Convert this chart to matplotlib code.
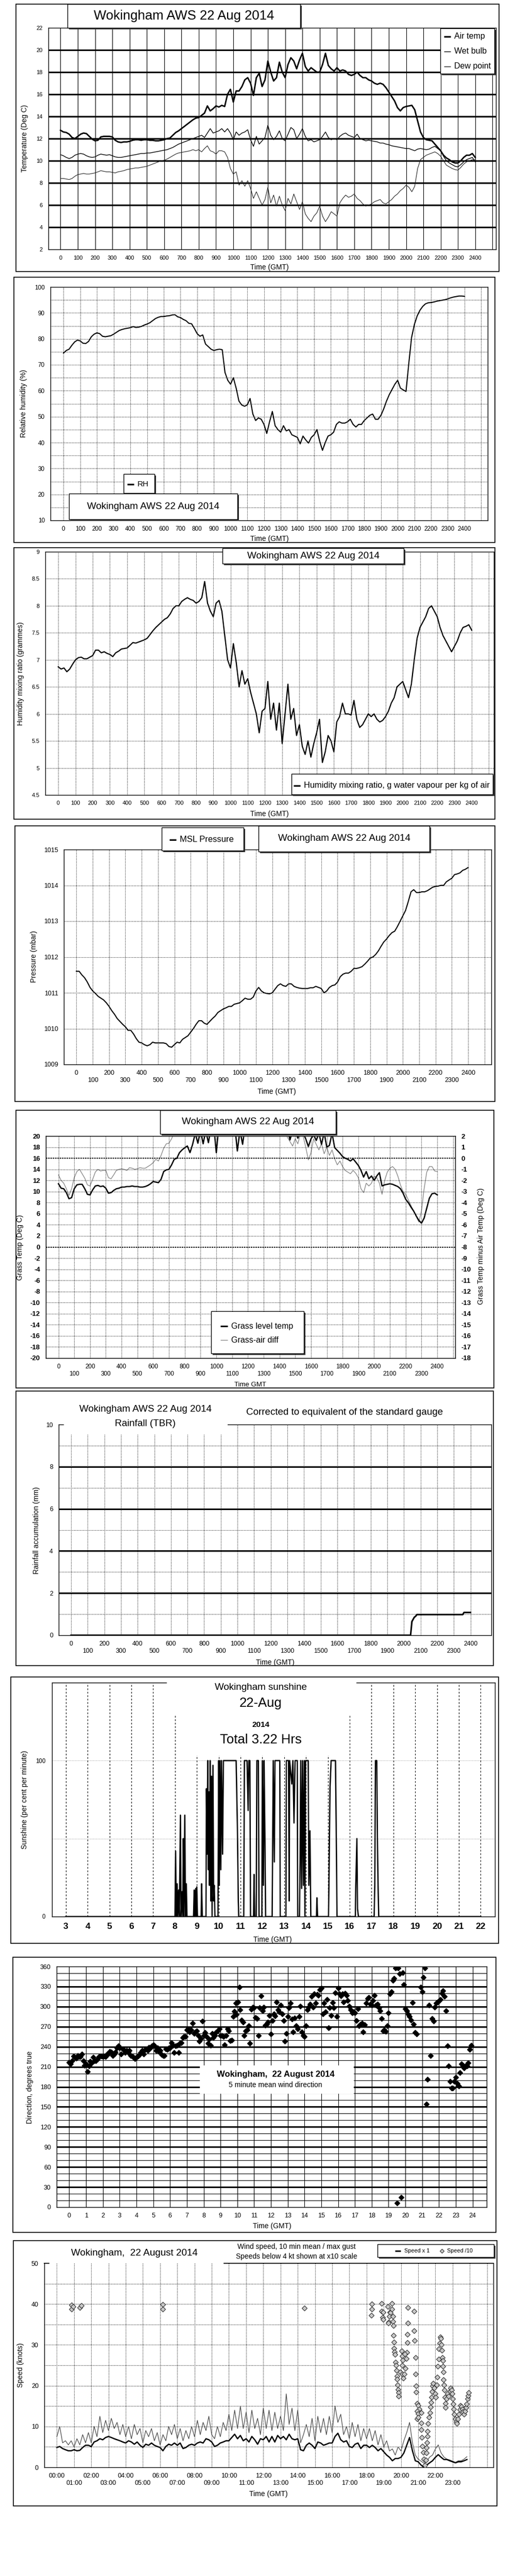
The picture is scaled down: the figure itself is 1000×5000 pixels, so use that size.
import numpy as np
import matplotlib
matplotlib.use('Agg')
import matplotlib.pyplot as plt
from matplotlib.patches import Rectangle

FONT = ['Liberation Sans', 'DejaVu Sans']
plt.rcParams['font.family'] = FONT
plt.rcParams['font.size'] = 9
plt.rcParams['axes.unicode_minus'] = False

# ---- 10-minute readings, 00:00 .. 24:00 (one hour per line) ----
minutes = np.arange(0, 1441, 10)

air_temp = [
    12.75, 12.6, 12.55, 12.4, 12.1, 12.0,
    12.2, 12.4, 12.5, 12.45, 12.2, 11.95,
    11.8, 11.85, 12.15, 12.2, 12.2, 12.2,
    12.15, 11.85, 11.7, 11.65, 11.7, 11.7,
    11.75, 11.85, 11.9, 11.9, 11.85, 11.9,
    11.9, 11.85, 11.85, 11.8, 11.8, 11.85,
    11.9, 12.0, 12.05, 12.3, 12.55, 12.7,
    12.9, 13.1, 13.3, 13.5, 13.7, 13.85,
    13.9, 14.1, 14.3, 14.95, 14.5, 14.7,
    14.95, 14.85, 15.0, 14.9, 16.0, 16.45,
    15.3, 16.3, 16.3, 16.7, 17.3, 17.5,
    17.0, 15.9, 17.5, 17.9, 16.7, 17.3,
    19.0, 18.0, 17.2, 17.5, 18.9, 18.0,
    17.5, 18.7, 19.3, 19.0, 18.3, 19.1,
    19.7, 18.5, 18.1, 18.4, 18.2, 18.0,
    18.0, 18.7, 19.7, 18.6, 18.3, 18.1,
    18.4, 18.1, 18.2, 18.1, 17.8, 17.7,
    17.8, 18.0, 17.7, 17.5, 17.5, 17.3,
    17.2, 17.0, 16.9, 17.0, 16.9, 16.6,
    16.2, 15.8, 15.4, 14.8, 14.5, 14.8,
    14.9, 14.95, 15.0, 14.6, 13.6, 12.6,
    12.1, 11.9, 11.85, 11.8, 11.5, 11.2,
    10.9, 10.5, 10.25, 10.1, 9.9, 9.8,
    9.8, 10.0, 10.3, 10.5, 10.5, 10.65,
    10.3]

wet_bulb = [
    10.55, 10.45, 10.3, 10.2, 10.3, 10.5,
    10.6, 10.65, 10.6, 10.45, 10.35, 10.3,
    10.35, 10.5, 10.6, 10.55, 10.5, 10.55,
    10.45, 10.35, 10.3, 10.3, 10.35, 10.4,
    10.45, 10.5, 10.55, 10.6, 10.65, 10.65,
    10.7, 10.7, 10.75, 10.8, 10.85, 10.9,
    10.95, 11.0, 11.1, 11.2, 11.35, 11.5,
    11.6, 11.7, 11.8, 11.9, 12.0, 12.1,
    12.2, 12.3, 12.1, 12.5, 12.9, 12.5,
    12.6, 12.7, 12.9, 12.6, 12.9, 12.5,
    11.9, 12.6, 12.3, 12.5, 12.6, 12.8,
    11.9, 11.3, 12.2, 11.5, 11.8, 12.1,
    13.2, 12.3, 11.9, 12.2, 12.7, 12.0,
    11.8, 12.4, 13.0, 12.8, 12.0, 12.4,
    12.9, 12.2, 11.8, 11.9, 11.7, 11.8,
    11.9, 12.2, 12.6, 12.1, 11.9, 12.0,
    11.9, 12.2, 12.4, 12.5, 12.3, 12.2,
    12.1, 12.4, 12.0, 11.9, 11.8, 11.85,
    11.8, 11.75, 11.7, 11.6, 11.6, 11.5,
    11.45, 11.35, 11.3, 11.25, 11.2, 11.15,
    11.1, 11.1, 11.0, 10.9, 11.05, 11.1,
    11.05, 11.0, 11.05, 11.2, 11.3, 11.1,
    10.9, 10.4, 10.0, 9.8, 9.65, 9.5,
    9.45, 9.65, 9.9, 10.1, 10.2, 10.3,
    9.9]

dew_point = [
    8.4, 8.4, 8.35, 8.3, 8.4, 8.6,
    8.75, 8.8, 8.85, 8.8, 8.8, 8.85,
    8.9, 9.0, 9.1, 9.05, 9.0, 9.0,
    8.95, 8.9, 9.0, 9.05, 9.1, 9.2,
    9.25, 9.3, 9.35, 9.35, 9.4, 9.45,
    9.5, 9.6, 9.7, 9.8, 9.9, 10.0,
    10.05, 10.15, 10.3, 10.45, 10.6, 10.7,
    10.75, 10.8, 10.85, 10.9, 11.0, 10.9,
    11.0, 10.8, 11.1, 11.35, 10.9, 10.8,
    10.6, 10.9, 10.9, 10.8, 10.3, 9.3,
    8.8, 9.0, 7.8, 8.2, 7.7, 8.2,
    7.5, 6.6, 7.2, 6.6, 6.0, 6.5,
    7.6, 6.2, 6.9, 5.9, 6.8, 6.0,
    5.5, 6.6, 6.1, 7.0, 6.3, 5.6,
    6.3, 5.2, 4.8, 4.5, 5.0, 5.3,
    5.9, 5.0, 4.5, 4.9, 5.4, 5.2,
    5.0, 6.2, 6.6, 6.9, 6.7, 6.8,
    7.0, 6.6, 6.4, 6.1, 5.9, 6.0,
    6.1, 6.3, 6.4, 6.5, 6.2, 6.1,
    6.3, 6.5, 6.8, 7.0, 7.3, 7.5,
    7.8, 7.6, 7.2, 7.7, 9.3, 10.1,
    10.3, 10.5, 10.6, 10.7, 10.8, 10.65,
    10.4, 10.0, 9.6, 9.45, 9.3, 9.2,
    9.15, 9.4, 9.7, 9.9, 10.0, 10.1,
    10.1]

rel_humidity = [
    74.5, 75.5, 76, 77.5, 78.8, 79.5,
    79.2, 78.3, 78.2, 79, 80.8, 81.8,
    82.3, 82, 81, 80.8, 81, 81.2,
    81.8, 82.5, 83.2, 83.6, 83.9, 84.1,
    84.3, 84.7, 84.4, 84.5, 84.8, 85.3,
    85.7, 86.2, 87, 87.8, 88.3, 88.6,
    88.6, 88.8, 88.9, 89.2, 89.3, 88.5,
    88.2, 87.5, 87, 86, 85.8, 84,
    82, 81, 81.5, 78, 77, 76,
    75.5, 75.8, 76, 75.8, 67, 64,
    62.5, 65, 61, 56, 54.5, 54,
    54.5, 57, 51, 48.5, 49.5, 49,
    47, 43.5, 48, 52, 46.5, 45,
    44, 46.5, 44.5, 45, 43, 42.5,
    42, 39.5, 42.5, 41, 39.8, 42,
    43, 45, 40.5, 37, 40, 42.5,
    43, 44, 47, 48, 47.5, 47.5,
    48, 49, 47, 46, 47, 47,
    48.5, 49.5, 50.5, 51, 49, 49,
    50.5, 53, 56, 58.5, 60.5, 62.5,
    64, 61, 60.3, 59.7, 70.5, 80.5,
    85.5, 88.8, 91, 92.5, 93.5, 93.9,
    94, 94.2, 94.5, 94.7, 94.9, 95.1,
    95.4, 95.8, 96.1, 96.3, 96.5, 96.5,
    96.4]

mixing_ratio = [
    6.87, 6.83, 6.85, 6.78, 6.83, 6.92,
    7.0, 7.04, 7.05, 7.02, 7.02, 7.05,
    7.08, 7.18, 7.18, 7.13, 7.15, 7.12,
    7.1, 7.06, 7.13, 7.16, 7.2, 7.21,
    7.22, 7.27, 7.32, 7.31, 7.33, 7.35,
    7.37, 7.4, 7.47, 7.54, 7.6, 7.65,
    7.7, 7.75, 7.78, 7.85, 7.95, 8.0,
    8.0, 8.08, 8.12, 8.15, 8.12, 8.1,
    8.05, 8.08, 8.15, 8.45, 8.05, 7.9,
    7.8, 8.05, 8.1, 7.9, 7.45, 7.0,
    6.85, 7.3, 6.95, 6.5, 6.8, 6.55,
    6.65, 6.4, 6.2, 6.0, 5.65, 6.05,
    6.1, 6.6, 5.9, 6.2, 5.7, 6.2,
    5.45, 6.0, 6.55, 5.9, 6.1, 5.6,
    5.8, 5.4, 5.25, 5.5, 5.2, 5.45,
    5.65, 5.9, 5.1, 5.3, 5.6, 5.5,
    5.3, 5.85, 5.95, 6.2, 6.0, 6.0,
    5.98, 6.25, 5.9, 5.75, 5.8, 5.9,
    6.0, 5.95, 6.0, 5.9, 5.85, 5.88,
    5.95, 6.05, 6.2, 6.3, 6.5, 6.55,
    6.6, 6.45, 6.3, 6.55, 7.0, 7.4,
    7.6, 7.7, 7.8, 7.95, 8.0, 7.9,
    7.8, 7.6, 7.45, 7.35, 7.25, 7.15,
    7.25, 7.35, 7.5, 7.6, 7.62, 7.65,
    7.55]

msl_pressure = [
    1011.6, 1011.6, 1011.5, 1011.42, 1011.3, 1011.15,
    1011.05, 1010.98, 1010.9, 1010.85, 1010.8, 1010.72,
    1010.62, 1010.5, 1010.4, 1010.28, 1010.2, 1010.12,
    1010.05, 1009.95, 1009.95, 1009.85, 1009.72, 1009.62,
    1009.6, 1009.55, 1009.52, 1009.55, 1009.62, 1009.6,
    1009.6, 1009.6, 1009.6, 1009.58, 1009.5, 1009.48,
    1009.55, 1009.62, 1009.6, 1009.7, 1009.75, 1009.8,
    1009.9, 1010.0, 1010.12, 1010.22, 1010.22, 1010.15,
    1010.12, 1010.2, 1010.28, 1010.35, 1010.45, 1010.5,
    1010.55, 1010.58, 1010.62, 1010.62, 1010.68, 1010.7,
    1010.72, 1010.78, 1010.85, 1010.82, 1010.82, 1010.88,
    1011.05, 1011.15, 1011.05, 1011.0, 1010.98, 1010.97,
    1011.0, 1011.1, 1011.2, 1011.25, 1011.2, 1011.18,
    1011.25, 1011.25, 1011.18, 1011.15, 1011.13, 1011.12,
    1011.12, 1011.12, 1011.14, 1011.14, 1011.18, 1011.15,
    1011.12, 1011.0, 1011.05, 1011.15, 1011.2, 1011.22,
    1011.3, 1011.45, 1011.52, 1011.55, 1011.55, 1011.6,
    1011.68, 1011.68, 1011.7, 1011.73, 1011.8, 1011.88,
    1011.97, 1012.0, 1012.07, 1012.17, 1012.3, 1012.42,
    1012.5, 1012.6, 1012.68, 1012.72, 1012.85, 1013.0,
    1013.15, 1013.3, 1013.55, 1013.82, 1013.88, 1013.8,
    1013.8, 1013.82, 1013.82, 1013.85, 1013.9, 1013.95,
    1013.97, 1013.98, 1014.0, 1014.0, 1014.1, 1014.15,
    1014.2, 1014.3, 1014.32, 1014.35, 1014.42, 1014.45,
    1014.5]

grass_temp = [
    11.4, 10.6, 10.5, 9.8, 8.7, 8.9,
    10.5, 11.2, 11.3, 11.3, 10.5, 9.5,
    9.4, 10.3, 11.0, 11.1, 10.9, 11.0,
    10.6, 9.7, 9.8, 10.2, 10.5, 10.6,
    10.8, 10.8, 10.9, 10.9, 11.0, 10.9,
    10.9, 10.8, 10.8, 10.9, 11.1, 11.4,
    11.8, 11.7, 11.6, 12.2, 13.6, 13.9,
    14.0, 14.8, 15.8, 16.0, 17.0, 17.5,
    17.9, 18.2, 17.0, 18.5, 20.5, 18.7,
    21.0, 18.6, 21.0, 18.8, 21.5, 22.0,
    17.0, 22.0, 22.5, 22.0, 23.0, 22.5,
    23.0, 22.0, 17.3, 21.0, 18.5, 22.0,
    22.5, 23.0, 22.0, 23.5, 23.0, 22.5,
    23.0, 22.5, 23.5, 22.0, 23.0, 22.5,
    23.0, 22.0, 22.5, 21.5, 19.3, 21.0,
    21.0, 19.6, 21.0, 20.5, 19.5, 18.1,
    19.5, 20.2, 19.2, 20.5, 18.5, 20.6,
    18.0, 18.3, 20.5, 17.9, 17.4, 16.9,
    16.3, 16.0, 15.8, 15.5, 15.9, 15.3,
    14.7, 13.8, 12.6, 13.6, 12.3, 12.8,
    12.0, 12.8, 13.4, 11.0, 11.2, 11.3,
    11.4, 11.3, 11.1, 10.9, 10.5, 9.7,
    8.6, 8.0, 7.2, 6.5, 5.6, 4.8,
    4.3, 5.2, 7.0, 8.8, 9.6, 9.7,
    9.4]

grass_air_diff = [
    -1.5, -2.0, -2.25, -2.75, -3.35, -2.75,
    -1.75, -1.2, -1.0, -1.4, -1.8, -2.4,
    -2.5, -1.9, -1.25, -1.0, -1.15, -1.1,
    -1.1, -1.75, -1.85, -1.5, -1.1, -1.0,
    -0.95, -1.0, -1.1, -0.85, -0.9, -1.0,
    -0.95, -0.85, -0.9, -0.9, -0.75, -0.6,
    -0.4, -0.1, -0.25, 0.25, 0.9, 1.3,
    1.35, 1.75, 2.3, 2.6, 2.8, 3.0,
    3.2, 3.5, 3.3, 3.8, 4.0, 3.6,
    4.2, 3.7, 4.1, 3.9, 4.3, 4.5,
    3.5, 4.2, 4.0, 4.5, 4.4, 4.6,
    4.1, 3.4, 3.0, 4.0, 3.8, 4.3,
    4.6, 4.2, 3.9, 4.4, 4.8, 4.5,
    4.1, 4.3, 4.6, 4.0, 4.4, 4.2,
    4.5, 3.8, 2.6, 1.9, 1.5, 1.1,
    1.75, 1.3, 2.25, 2.0, 1.0, -0.15,
    0.5, 1.75, 1.25, 0.75, 1.3, 0.4,
    1.0, 0.25, 0.75, -0.05, -0.6, -0.25,
    -0.75, -1.1, -1.25, -1.4, -1.1, -1.35,
    -1.75, -2.75, -3.1, -2.25, -2.5, -2.25,
    -1.6, -1.75, -2.25, -3.25, -2.0, -1.25,
    -0.9, -0.75, -1.0, -1.6, -2.4, -3.0,
    -3.25, -3.75, -4.25, -4.75, -5.25, -5.75,
    -4.75, -2.75, -1.25, -0.75, -0.75, -1.15,
    -1.2]

# rainfall accumulation steps (time as hhmm-scale, mm)
rain_x = [0, 2040, 2048, 2062, 2070, 2078, 2353, 2361, 2400]
rain_mm = [0, 0, 0.65, 0.85, 0.9, 0.98, 0.98, 1.08, 1.08]

# sunshine trace (hours, per cent per minute)
sun_t = [3.0, 8.0, 8.03, 8.06, 8.1, 8.13, 8.17, 8.2, 8.25, 8.28, 8.33, 8.36,
         8.38, 8.41, 8.45, 8.48, 8.52, 8.55, 8.85, 8.88, 8.9, 8.95, 8.97,
         9.0, 9.03, 9.2, 9.22, 9.25, 9.42, 9.44, 9.47, 9.5, 9.53, 9.56,
         9.58, 9.61, 9.64, 9.67, 9.7, 9.74, 9.77, 9.8, 9.83, 9.97, 10.0,
         10.03, 10.06, 10.1, 10.13, 10.18, 10.22, 10.8, 10.82, 10.86, 10.9,
         10.92, 11.15, 11.18, 11.3, 11.35, 11.38, 11.43, 11.46, 11.6, 11.62,
         11.65, 11.72, 11.75, 11.82, 11.85, 11.98, 12.0, 12.05, 12.08,
         12.12, 12.15, 12.45, 12.5, 12.55, 12.58, 12.8, 12.82, 13.08, 13.1,
         13.2, 13.23, 13.25, 13.35, 13.4, 13.45, 13.5, 13.6, 13.62, 13.7,
         13.73, 13.76, 13.8, 13.84, 13.88, 13.92, 13.95, 13.98, 14.1,
         14.13, 14.18, 14.22, 14.48, 14.5, 14.53, 15.03, 15.05, 15.1, 15.15,
         15.35, 15.38, 15.42, 16.26, 16.28, 16.33, 16.36, 16.4, 17.12,
         17.15, 17.18, 17.24, 17.27, 17.3, 17.33, 22.0]
sun_v = [0, 0, 42, 0, 21, 0, 17, 0, 65, 0, 16, 0,
         50, 0, 65, 0, 21, 0, 0, 17, 0, 18, 0,
         19, 0, 0, 21, 0, 0, 82, 40, 100, 30, 80,
         20, 100, 10, 90, 0, 97, 10, 20, 0, 0, 100,
         20, 100, 30, 100, 40, 100, 100, 86, 56, 10,
         0, 0, 100, 100, 68, 100, 100, 0, 0, 27,
         0, 0, 100, 100, 0, 0, 100, 20, 100,
         50, 0, 0, 100, 35, 100, 100, 0, 0, 100,
         100, 10, 100, 85, 100, 60, 100, 100, 0, 0,
         35, 100, 18, 100, 20, 100, 0, 100, 100,
         20, 55, 0, 0, 12, 0, 0, 20, 83, 100,
         100, 60, 0, 0, 20, 50, 5, 0, 0,
         20, 100, 100, 50, 20, 0, 0]

# 5 minute mean wind direction (hours, degrees)
wd_t = [0.0, 0.08, 0.17, 0.25, 0.33, 0.42, 0.5, 0.58, 0.67, 0.75, 0.83, 0.92,
        1.0, 1.08, 1.17, 1.25, 1.33, 1.42, 1.5, 1.58, 1.67, 1.75, 1.83, 1.92,
        2.0, 2.08, 2.17, 2.25, 2.33, 2.42, 2.5, 2.58, 2.67, 2.75, 2.83, 2.92,
        3.0, 3.08, 3.17, 3.25, 3.33, 3.42, 3.5, 3.58, 3.67, 3.75, 3.83, 3.92,
        4.0, 4.08, 4.17, 4.25, 4.33, 4.42, 4.5, 4.58, 4.67, 4.75, 4.83, 4.92,
        5.0, 5.08, 5.17, 5.25, 5.33, 5.42, 5.5, 5.58, 5.67, 5.75, 5.83, 5.92,
        6.0, 6.08, 6.17, 6.25, 6.33, 6.42, 6.5, 6.58, 6.67, 6.75, 6.83, 6.92,
        7.0, 7.08, 7.17, 7.25, 7.33, 7.42, 7.5, 7.58, 7.67, 7.75, 7.83, 7.92,
        8.0, 8.08, 8.17, 8.25, 8.33, 8.42, 8.5, 8.58, 8.67, 8.75, 8.83, 8.92,
        9.0, 9.08, 9.17, 9.25, 9.33, 9.42, 9.5, 9.58, 9.67, 9.75, 9.83, 9.92,
        9.96, 10.04, 10.12, 10.17, 10.25, 10.33, 10.42, 10.5, 10.58, 10.67,
        10.75, 10.83, 10.92, 11.0, 11.08, 11.17, 11.25, 11.33, 11.42, 11.5,
        11.58, 11.67, 11.75, 11.83, 11.92, 12.0, 12.08, 12.17, 12.25, 12.33,
        12.42, 12.5, 12.58, 12.67, 12.75, 12.83, 12.92, 13.0, 13.08, 13.17,
        13.25, 13.33, 13.42, 13.5, 13.58, 13.67, 13.75, 13.83, 13.92, 14.0,
        14.08, 14.17, 14.25, 14.33, 14.42, 14.5, 14.58, 14.67, 14.75, 14.83,
        14.92, 15.0, 15.08, 15.17, 15.25, 15.33, 15.42, 15.5, 15.58, 15.67,
        15.75, 15.83, 15.92, 16.0, 16.08, 16.17, 16.25, 16.33, 16.42, 16.5,
        16.58, 16.67, 16.75, 16.83, 16.92, 17.0, 17.08, 17.17, 17.25, 17.33,
        17.42, 17.5, 17.58, 17.67, 17.75, 17.83, 17.92, 18.0, 18.08, 18.17,
        18.25, 18.33, 18.42, 18.5, 18.58, 18.67, 18.75, 18.83, 18.92, 19.0,
        19.08, 19.17, 19.25, 19.33, 19.42, 19.5, 19.58, 19.67, 19.75, 19.83,
        19.92, 20.0, 20.08, 20.17, 20.25, 20.33, 20.42, 20.5, 20.58, 20.67,
        20.92, 21.0, 21.08, 21.17, 21.25, 21.33, 21.42, 21.5, 21.58, 21.67,
        21.75, 21.83, 21.92, 22.0, 22.08, 22.17, 22.25, 22.33, 22.42, 22.5,
        22.58, 22.67, 22.75, 22.83, 22.92, 23.0, 23.08, 23.17, 23.25, 23.33,
        23.42, 23.5, 23.58, 23.67, 23.75, 23.83, 23.92]
wd_deg = [217, 214, 219, 226, 224, 223, 227, 225, 225, 229, 219, 212,
          214, 203, 211, 218, 216, 224, 219, 219, 221, 225, 226, 226,
          225, 226, 225, 229, 230, 233, 232, 227, 229, 232, 238, 241,
          238, 229, 237, 235, 231, 234, 231, 234, 227, 226, 224, 222,
          224, 226, 228, 231, 234, 229, 235, 237, 234, 239, 238, 241,
          243, 241, 234, 238, 233, 234, 228, 227, 227, 237, 236, 238,
          238, 246, 242, 231, 241, 242, 231, 245, 246, 254, 255, 255,
          265, 267, 262, 265, 275, 260, 262, 264, 257, 248, 252, 278,
          257, 261, 255, 245, 251, 242, 260, 254, 257, 262, 264, 267,
          257, 257, 255, 243, 257, 267, 264, 249, 250, 285, 293, 305,
          288, 307, 329, 295, 280, 277, 257, 264, 265, 271,
          245, 296, 299, 298, 284, 282, 257, 298, 316, 294,
          299, 272, 274, 277, 287, 259, 279, 289, 286, 307,
          295, 292, 302, 289, 279, 248, 260, 285, 298, 305,
          281, 262, 283, 271, 267, 285, 301, 262, 257, 255,
          271, 295, 299, 304, 315, 299, 319, 305, 318, 317,
          325, 328, 289, 305, 292, 311, 268, 298, 287, 306,
          298, 321, 285, 328, 319, 316, 319, 307, 320, 317,
          309, 301, 295, 291, 292, 291, 279, 297, 271, 274,
          275, 262, 273, 305, 312, 314, 304, 302, 309, 317,
          302, 304, 298, 294, 282, 264, 265, 263, 271, 291,
          319, 322, 339, 342, 358, 6, 358, 349, 15, 351,
          333, 297, 294, 288, 285, 280, 306, 274, 261, 259,
          329, 322, 344, 358, 154, 191, 302, 227, 282, 278,
          299, 305, 307, 308, 311, 320, 324, 315, 294, 241,
          211, 188, 178, 178, 188, 194, 185, 181, 201, 214,
          212, 208, 211, 211, 216, 236, 242]

# wind speed, 10 minute readings 00:00 .. 23:50 (knots)
wind_mean = [
    4.85, 5.1, 4.6, 4.3, 4.05, 4.05,
    4.3, 4.05, 4.15, 4.85, 5.4, 5.4,
    5.1, 6.2, 6.5, 7.0, 6.75, 7.3,
    7.55, 7.3, 7.0, 6.75, 6.5, 6.2,
    5.95, 6.5, 6.2, 5.65, 6.2, 5.4,
    4.85, 5.65, 5.4, 5.95, 5.4, 5.1,
    4.85, 4.05, 5.1, 5.65, 5.4, 5.95,
    5.4, 5.95, 4.6, 4.85, 5.4, 5.65,
    5.4, 5.95, 6.2, 5.95, 7.0, 6.75,
    6.2, 5.1, 5.4, 5.95, 6.2, 6.5,
    6.5, 7.3, 8.1, 7.0, 7.8, 6.5,
    7.0, 6.2, 7.55, 6.75, 5.65, 7.0,
    6.75, 7.55, 6.2, 7.55, 6.2, 7.8,
    7.0, 7.55, 6.75, 8.1, 7.0, 6.75,
    7.0, 4.3, 4.05, 5.4, 5.95, 5.4,
    4.6, 6.2, 5.95, 5.4, 5.65, 5.95,
    5.95, 7.55, 8.35, 6.75, 6.2, 6.5,
    5.1, 4.85, 5.65, 5.95, 4.6, 5.4,
    5.4, 4.85, 5.4, 4.85, 4.05, 4.6,
    3.8, 3.0, 2.45, 1.6, 2.15, 2.15,
    2.45, 3.5, 5.4, 7.3, 4.05, 1.6,
    1.35, 0.55, 0.0, 0.55, 1.1, 1.6,
    2.45, 3.1, 2.45, 1.9, 1.9, 1.6,
    1.35, 1.1, 1.35, 1.35, 1.6, 1.9]
wind_gust = [
    7.5, 10.0, 6.0, 6.5, 5.5, 6.5,
    5.0, 7.0, 5.5, 8.0, 6.0, 8.5,
    6.0, 10.0, 7.5, 12.5, 8.5, 11.5,
    9.0, 12.0, 9.5, 11.0, 8.0, 10.5,
    7.5, 10.0, 7.0, 10.5, 8.0, 9.5,
    6.0, 9.0, 7.5, 9.5, 6.5, 8.5,
    5.5, 8.0, 6.5, 10.0, 8.0, 10.5,
    7.0, 9.5, 6.5, 9.0, 7.0, 10.0,
    7.5, 11.5, 8.0, 11.0, 9.0, 12.5,
    8.0, 7.0, 10.0, 7.5, 11.0, 9.0,
    13.0, 9.0, 14.0, 9.5, 15.0, 9.5,
    13.5, 8.5, 14.0, 9.5, 12.0, 8.0,
    14.5, 9.5, 14.0, 9.0, 13.5, 9.5,
    12.5, 9.0, 18.0, 10.5, 14.5, 9.0,
    14.0, 6.0, 8.0, 10.5, 7.5, 12.0,
    6.5, 12.5, 8.5, 12.0, 8.0, 12.5,
    8.5, 15.0, 11.0, 13.0, 8.0, 10.0,
    7.0, 11.0, 7.5, 10.5, 6.5, 9.5,
    7.0, 9.5, 6.5, 9.0, 5.5, 8.0,
    5.0, 6.5, 4.0, 4.5, 3.0, 5.0,
    4.0, 6.5, 8.5, 11.0, 6.0, 3.0,
    2.0, 1.5, 1.0, 1.5, 2.5, 3.0,
    4.5, 5.5, 3.5, 2.5, 2.0, 1.8,
    1.5, 1.2, 1.6, 1.6, 2.0, 2.6]

# speeds below 4 kt plotted at x10 (hours, knots)
low_t = [0.85, 0.85, 0.95, 1.33, 1.43, 6.16, 6.16, 14.39,
         18.31, 18.31, 18.29, 18.87, 18.87, 18.95, 18.93, 18.95,
         19.22, 19.35, 19.39, 19.32, 19.29, 19.25, 19.47, 19.47, 19.53,
         19.53, 19.56, 19.56, 19.58, 19.6, 19.63, 19.65, 19.68, 19.71,
         19.73, 19.76, 19.78, 19.81, 19.83, 19.85, 19.85,
         20.03, 20.08, 20.1, 20.06, 19.96, 20.08, 20.13, 20.2, 20.26,
         20.3, 20.33, 20.23, 20.4, 20.4, 20.38, 20.36,
         20.77, 20.77, 20.79, 20.84, 20.84, 20.87, 20.87,
         20.94, 21.01, 21.07, 20.94, 21.01, 21.17, 20.94, 21.01,
         21.17, 21.19, 21.21, 21.24, 21.29, 21.34, 21.39, 21.44, 21.47,
         21.49, 21.52, 21.55, 21.55, 21.58, 21.62, 21.68, 21.72, 21.75,
         21.78, 21.82, 21.85, 21.88, 21.93, 21.98, 22.02, 22.08, 22.12,
         22.15, 22.2, 22.2, 22.25, 22.3, 22.32, 22.35, 22.38, 22.42,
         22.45, 22.45, 22.47, 22.48, 22.5, 22.52, 22.55, 22.58, 22.58,
         22.65, 22.7, 22.78, 22.85, 22.9, 22.95, 22.98, 23.02, 23.05,
         23.08, 23.1, 23.15, 23.2, 23.25, 23.3, 23.35, 23.41, 23.46,
         23.51, 23.56, 23.61, 23.66, 23.72, 23.77, 23.82, 23.87, 23.9,
         23.93]
low_kt = [39.75, 38.8, 39.4, 39.2, 39.6, 39.9, 38.8, 39.0,
          40.0, 38.8, 37.3, 40.1, 38.3, 38.0, 36.8, 36.3,
          39.4, 38.0, 37.9, 37.0, 35.6, 35.4, 40.1, 38.8, 37.0,
          35.7, 34.7, 32.3, 30.7, 29.2, 28.3, 27.6, 25.7, 25.0,
          23.8, 22.4, 21.6, 20.2, 19.1, 18.3, 17.4,
          28.5, 27.3, 26.3, 25.0, 23.3, 22.9, 21.9, 22.9, 24.2,
          26.7, 28.2, 27.8, 39.2, 35.3, 32.6, 30.6,
          38.2, 33.4, 31.1, 26.9, 22.9, 20.0, 18.4,
          15.7, 15.2, 14.3, 13.8, 13.1, 13.4, 11.9, 12.2,
          10.9, 9.2, 7.3, 5.2, 3.7, 2.0, 0.5, 1.8, 3.5,
          4.8, 6.0, 7.6, 8.9, 10.7, 12.2, 13.4, 14.8, 15.9,
          17.2, 18.5, 20.0, 20.6, 19.5, 18.1, 17.2, 20.2, 22.1,
          24.8, 26.5, 29.0, 30.4, 31.9, 31.6, 30.1, 28.6, 26.9,
          26.1, 24.8, 23.3, 21.5, 20.2, 18.9, 17.2, 15.7, 14.7,
          16.8, 18.1, 17.4, 18.7, 19.5, 18.9, 18.1, 16.8, 15.5,
          14.3, 13.0, 11.9, 11.1, 10.7, 11.9, 13.0, 14.1, 15.1,
          14.9, 14.3, 13.6, 13.0, 13.8, 14.7, 15.5, 16.8, 17.6,
          18.3]

x_hhmm = minutes / 60 * 100
wind_hours = minutes[:len(wind_mean)] / 60

W, H = 1000, 5000
fig = plt.figure(figsize=(W / 100, H / 100), dpi=100)
ov = fig.add_axes([0, 0, 1, 1], zorder=20)
ov.set_xlim(0, W)
ov.set_ylim(H, 0)
ov.axis('off')


def add_ax(l, t, r, b):
    return fig.add_axes([l / W, 1 - b / H, (r - l) / W, (b - t) / H])


def frame(l, t, r, b):
    ov.add_patch(Rectangle((l, t), r - l, b - t, fill=False, ec='black', lw=1.2))


def box(l, t, r, b, shadow=True, edge=True):
    if shadow:
        ov.add_patch(Rectangle((l + 3, t + 3), r - l, b - t, fc='#3a3a3a', ec='none'))
    ov.add_patch(Rectangle((l, t), r - l, b - t, fc='white',
                           ec='black' if edge else 'none', lw=1.0))


def txt(x, y, s, size=9, ha='center', va='center', **kw):
    ov.text(x, y, s, fontsize=size, ha=ha, va=va, **kw)


def ylab(x, y, s, size=10):
    ov.text(x, y, s, fontsize=size, rotation=90, ha='center', va='center')


def leg_line(x, y, label, lw=2.2, color='black', size=11, length=13):
    ov.plot([x, x + length], [y, y], color=color, lw=lw, solid_capstyle='butt')
    txt(x + length + 7, y, label, size=size, ha='left')


def basic(ax, xlim, ylim, size=8, pad=8):
    ax.set_xlim(*xlim)
    ax.set_ylim(*ylim)
    ax.tick_params(length=0, labelsize=size, pad=pad)
    for s in ax.spines.values():
        s.set_linewidth(1.0)


def stagger(v):
    return str(v) if (v // 100) % 2 == 0 else '\n' + str(v)


# ---------------- panel 1: temperatures ----------------
frame(31, 8, 969, 527)
ax1 = add_ax(94, 54, 963, 484)
basic(ax1, (-70, 2520), (2, 22))
ax1.tick_params(axis='x', pad=9)
for yv in range(4, 21, 2):
    ax1.axhline(yv, color='black', lw=2.2, zorder=1)
for xv in range(0, 2501, 100):
    ax1.axvline(xv, color='black', lw=0.8, zorder=1)
ax1.plot(x_hhmm, air_temp, color='black', lw=2.0, zorder=3)
ax1.plot(x_hhmm, wet_bulb, color='black', lw=1.0, zorder=3)
ax1.plot(x_hhmm, dew_point, color='#202020', lw=0.8, zorder=3)
ax1.set_yticks(range(2, 23, 2))
ax1.set_xticks(range(0, 2401, 100))
box(131, 8, 583, 54)
txt(357, 31, 'Wokingham AWS 22 Aug 2014', size=18.5)
box(855, 55, 960, 143)
leg_line(862, 71, 'Air temp', lw=2.2, size=11.5)
leg_line(862, 100, 'Wet bulb', lw=1.0, size=11.5)
leg_line(862, 129, 'Dew point', lw=0.8, size=11.5)
ylab(48, 268, 'Temperature (Deg C)')
txt(523, 519, 'Time (GMT)', size=10)

# ---------------- panel 2: relative humidity ----------------
frame(27, 538, 961, 1053)
ax2 = add_ax(98, 557, 947, 1010)
basic(ax2, (-78, 2539), (10, 100), size=8.5)
ax2.set_yticks(range(10, 101, 10))
ax2.set_xticks(range(0, 2401, 100))
for yv in range(15, 100, 5):
    ax2.axhline(yv, color='black', lw=0.8, ls=':', zorder=1)
for xv in range(0, 2501, 100):
    ax2.axvline(xv, color='black', lw=0.8, ls=':', zorder=1)
ax2.plot(x_hhmm, rel_humidity, color='black', lw=1.5, zorder=3)
box(240, 920, 300, 957)
leg_line(247, 940, 'RH', lw=2.2, size=11, length=13)
box(134, 958, 461, 1008)
txt(297, 983, 'Wokingham AWS 22 Aug 2014', size=13.6)
ylab(46, 783, 'Relative humidity (%)')
txt(523, 1046, 'Time (GMT)', size=10)

# ---------------- panel 3: mixing ratio ----------------
frame(27, 1063, 961, 1590)
ax3 = add_ax(88, 1071, 959, 1543)
basic(ax3, (-75, 2529), (4.5, 9))
yt3 = np.arange(4.5, 9.01, 0.5)
ax3.set_yticks(yt3)
ax3.set_yticklabels(['{:g}'.format(v) for v in yt3])
ax3.set_xticks(range(0, 2401, 100))
for yv in yt3[1:-1]:
    ax3.axhline(yv, color='black', lw=0.8, ls=':', zorder=1)
for xv in range(0, 2501, 100):
    ax3.axvline(xv, color='black', lw=0.8, ls=':', zorder=1)
ax3.plot(x_hhmm, mixing_ratio, color='black', lw=1.6, zorder=3)
box(432, 1064, 784, 1094)
txt(608, 1080, 'Wokingham AWS 22 Aug 2014', size=13.6)
box(566, 1502, 957, 1542)
leg_line(570, 1525, 'Humidity mixing ratio, g water vapour per kg of air',
         lw=2.2, size=11.8, length=13)
ylab(40, 1308, 'Humidity mixing ratio (grammes)')
txt(523, 1580, 'Time (GMT)', size=10)

# ---------------- panel 4: pressure ----------------
frame(29, 1603, 961, 2138)
ax4 = add_ax(124, 1649, 954, 2066)
basic(ax4, (-77, 2542), (1009, 1015), size=9)
ax4.set_yticks(range(1009, 1016))
ax4.set_xticks(range(0, 2401, 100))
ax4.set_xticklabels([stagger(v) for v in range(0, 2401, 100)])
for yv in range(1010, 1015):
    ax4.axhline(yv, color='black', lw=0.8, ls=':', zorder=1)
for xv in range(0, 2501, 100):
    ax4.axvline(xv, color='black', lw=0.8, ls=':', zorder=1)
ax4.plot(x_hhmm, msl_pressure, color='black', lw=1.5, zorder=3)
box(314, 1606, 473, 1651)
leg_line(329, 1630, 'MSL Pressure', lw=2.2, size=12, length=13)
box(502, 1603, 834, 1653)
txt(668, 1628, 'Wokingham AWS 22 Aug 2014', size=13.6)
ylab(66, 1857, 'Pressure (mbar)')
txt(537, 2119, 'Time (GMT)', size=10)

# ---------------- panel 5: grass temperature ----------------
frame(31, 2155, 959, 2694)
ax5 = add_ax(89, 2205, 884, 2636)
basic(ax5, (-80, 2514), (-20, 20), size=8.5)
ax5.set_yticks(range(-20, 21, 2))
ax5.set_xticks(range(0, 2401, 100))
ax5.set_xticklabels([stagger(v) for v in range(0, 2401, 100)])
ax5.tick_params(axis='y', labelsize=9.5)
for lab in ax5.get_yticklabels():
    lab.set_fontweight('bold')
for yv in range(-18, 20, 2):
    if yv in (0, 16):
        ax5.axhline(yv, color='black', lw=1.4, ls=(0, (1.5, 0.8)), zorder=1)
    else:
        ax5.axhline(yv, color='black', lw=0.8, ls=':', zorder=1)
for xv in range(0, 2501, 100):
    ax5.axvline(xv, color='black', lw=0.8, ls=':', zorder=1)
ax5r = ax5.twinx()
ax5r.set_ylim(-18, 2)
ax5r.set_yticks(range(-18, 3, 1))
ax5r.tick_params(length=0, labelsize=9.5, pad=8)
for lab in ax5r.get_yticklabels():
    lab.set_fontweight('bold')
ax5r.plot(x_hhmm, grass_air_diff, color='#8a8a8a', lw=1.0, zorder=2)
ax5.set_zorder(ax5r.get_zorder() + 1)
ax5.patch.set_visible(False)
ax5.plot(x_hhmm, grass_temp, color='black', lw=1.8, zorder=3)
box(311, 2155, 652, 2201)
txt(481, 2177, 'Wokingham AWS 22 Aug 2014', size=13.6)
box(410, 2545, 590, 2627)
leg_line(428, 2574, 'Grass level temp', lw=2.2, size=11.5, length=14)
leg_line(428, 2601, 'Grass-air diff', lw=1.0, color='#8a8a8a', size=11.5, length=14)
ylab(39, 2421, 'Grass Temp (Deg C)')
ylab(934, 2419, 'Grass Temp minus Air Temp (Deg C)')
txt(486, 2688, 'Time GMT', size=9.5)

# ---------------- panel 6: rainfall ----------------
frame(31, 2700, 958, 3233)
ax6 = add_ax(114, 2765, 954, 3174)
basic(ax6, (-74, 2525), (0, 10), size=8.8)
ax6.set_yticks(range(0, 11, 2))
ax6.set_xticks(range(0, 2401, 100))
ax6.set_xticklabels([stagger(v) for v in range(0, 2401, 100)])
for yv in range(1, 10):
    if yv % 2 == 0:
        ax6.axhline(yv, color='black', lw=2.2, zorder=1)
    else:
        ax6.axhline(yv, color='black', lw=0.8, ls=':', zorder=1)
for xv in range(0, 2401, 100):
    ax6.axvline(xv, color='black', lw=0.8, ls=':', zorder=1)
ax6.plot(rain_x, rain_mm, color='black', lw=2.2, zorder=3)
ov.add_patch(Rectangle((124, 2762), 318, 23, fc='white', ec='none'))
txt(282, 2736, 'Wokingham AWS 22 Aug 2014', size=13.6)
txt(282, 2763, 'Rainfall (TBR)', size=13.6)
txt(669, 2742, 'Corrected to equivalent of the standard gauge', size=13.6)
ylab(71, 2970, 'Rainfall accumulation (mm)')
txt(534, 3227, 'Time (GMT)', size=10)

# ---------------- panel 7: sunshine ----------------
frame(21, 3255, 968, 3772)
ax7 = add_ax(101, 3266, 961, 3720)
basic(ax7, (2.37, 22.65), (0, 150), size=12.5, pad=9)
ax7.set_yticks([0, 50, 100])
ax7.set_yticklabels(['0', '', '100'])
ax7.tick_params(axis='y', labelsize=8.3)
ax7.set_xticks(range(3, 23))
for lab in ax7.get_xticklabels():
    lab.set_fontweight('bold')
for yv in (50, 100):
    ax7.axhline(yv, color='#9a9a9a', lw=0.8, ls=':', zorder=1)
for xv in range(3, 23):
    ax7.axvline(xv, color='black', lw=0.8, ls=(0, (3, 3)), zorder=1)
ax7.plot(sun_t, sun_v, color='black', lw=1.8, zorder=3)
ov.add_patch(Rectangle((324, 3262), 368, 67, fc='white', ec='none'))
ov.add_patch(Rectangle((342, 3328), 335, 79, fc='white', ec='none'))
txt(506, 3275, 'Wokingham sunshine', size=13.5)
txt(506, 3306, '22-Aug', size=18.5)
txt(506, 3348, '2014', size=11, fontweight='bold')
txt(506, 3377, 'Total 3.22 Hrs', size=18.5)
ylab(48, 3493, 'Sunshine (per cent per minute)')
txt(529, 3765, 'Time (GMT)', size=10)

# ---------------- panel 8: wind direction ----------------
frame(25, 3799, 963, 4333)
ax8 = add_ax(110, 3817, 945, 4284)
basic(ax8, (-0.75, 24.84), (0, 360), size=9)
ax8.set_yticks(range(0, 361, 30))
ax8.set_xticks(range(0, 25))
for yv in range(10, 360, 10):
    if yv % 30 == 0:
        ax8.axhline(yv, color='black', lw=2.2, zorder=1)
    else:
        ax8.axhline(yv, color='black', lw=0.8, zorder=1)
for xv in range(0, 25):
    ax8.axvline(xv, color='black', lw=0.8, zorder=1)
ax8.plot(wd_t, wd_deg, ls='none', marker='D', ms=5.5, color='black', zorder=3)
box(388, 4009, 687, 4064, shadow=False, edge=False)
txt(535, 4027, 'Wokingham,  22 August 2014', size=12, fontweight='bold')
txt(535, 4047, '5 minute mean wind direction', size=10)
ylab(58, 4051, 'Direction, degrees true')
txt(528, 4321, 'Time (GMT)', size=10)

# ---------------- panel 9: wind speed ----------------
frame(26, 4349, 965, 4864)
ax9 = add_ax(86, 4393, 958, 4789)
basic(ax9, (-0.73, 25.37), (0, 50), size=9)
ax9.set_yticks(range(0, 51, 10))
ax9.set_xticks(range(0, 24))
ax9.set_xticklabels(['{:02d}:00'.format(h) if h % 2 == 0 else '\n{:02d}:00'.format(h)
                     for h in range(0, 24)])
for yv in range(5, 50, 5):
    ax9.axhline(yv, color='black', lw=0.8, ls=':', zorder=1)
for xv in range(0, 26):
    ax9.axvline(xv, color='black', lw=0.8, ls=':', zorder=1)
ax9.spines['top'].set_visible(False)
ax9.plot([9.73, 25.37], [50, 50], color='black', lw=1.2, clip_on=False)
ax9.plot([-0.73, -0.45], [50, 50], color='black', lw=1.2, clip_on=False)
ax9.plot(wind_hours, wind_gust, color='#4a4a4a', lw=0.9, zorder=2)
ax9.plot(wind_hours, wind_mean, color='black', lw=1.8, zorder=3)
ax9.plot(low_t, low_kt, ls='none', marker='D', ms=5.5, mfc='#c8c8c8',
         mec='#303030', mew=0.8, zorder=4)
txt(261, 4373, 'Wokingham,  22 August 2014', size=13.6)
txt(576, 4361, 'Wind speed, 10 min mean / max gust', size=10)
txt(576, 4380, 'Speeds below 4 kt shown at x10 scale', size=10)
box(733, 4356, 959, 4381)
leg_line(767, 4369, 'Speed x 1', lw=2.0, size=7.8, length=11)
ov.plot([858], [4369], ls='none', marker='D', ms=4.5, mfc='#c8c8c8', mec='#303030', mew=0.8)
txt(868, 4369, 'Speed /10', size=7.8, ha='left')
ylab(40, 4591, 'Speed (knots)')
txt(521, 4841, 'Time (GMT)', size=10)

fig.savefig('out.png', dpi=100)
